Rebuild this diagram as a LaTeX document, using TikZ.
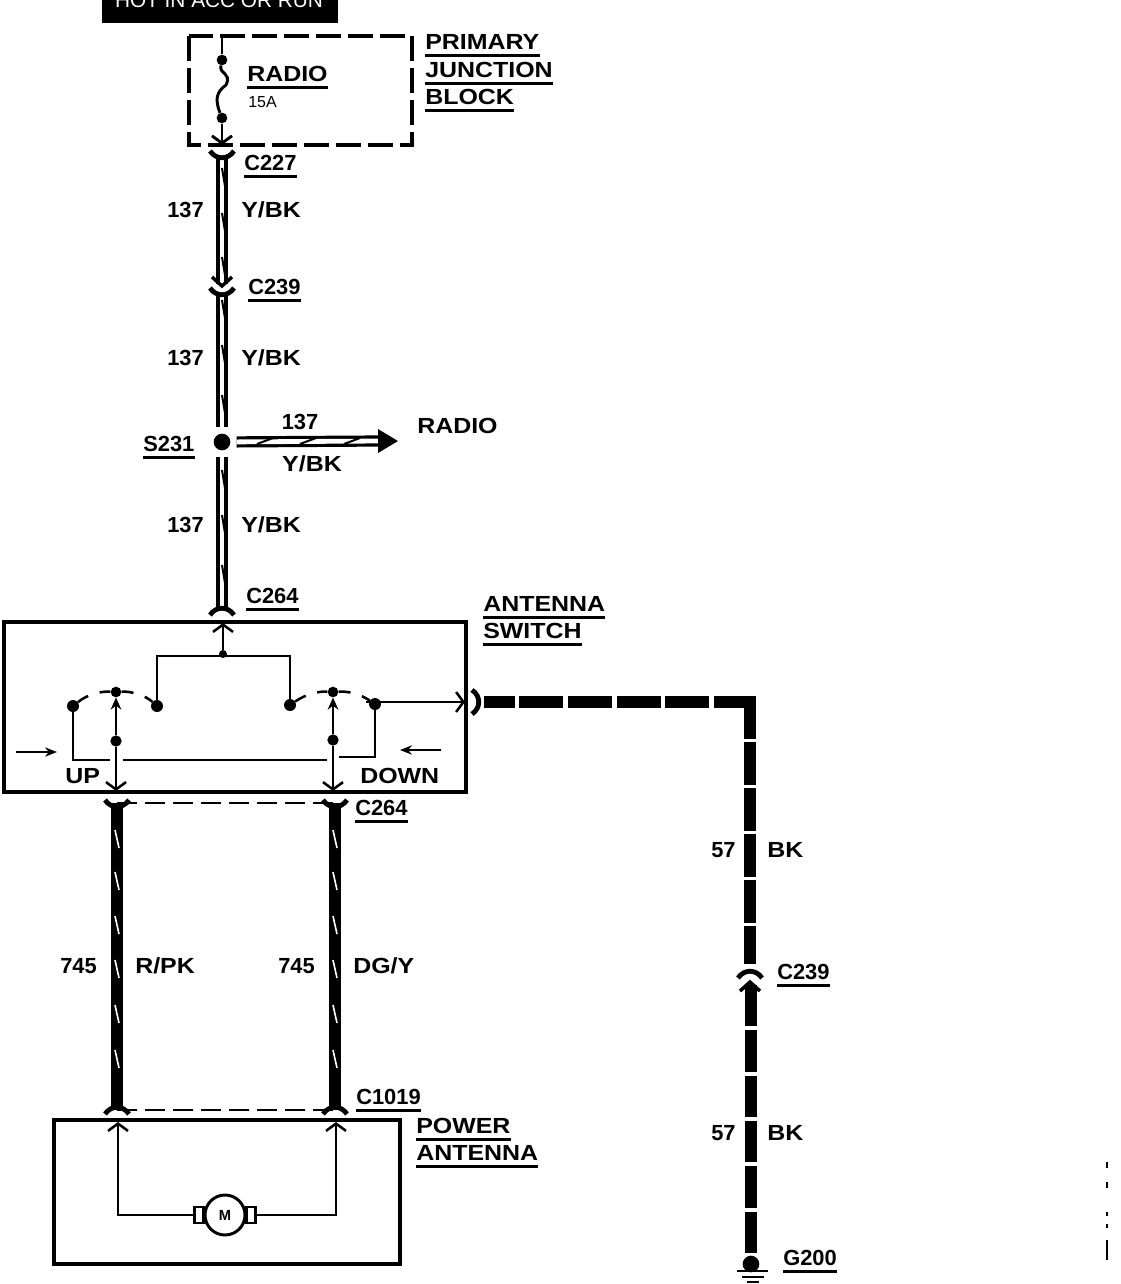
\documentclass[tikz,border=0pt]{standalone}
\usepackage{fontspec}
\setmainfont{Liberation Sans}
\newfontfamily\widefont[FakeStretch=1.14]{Liberation Sans}
\usetikzlibrary{arrows.meta}
\tikzset{
	wirelbl/.style={inner xsep=0pt, inner ysep=3.75pt, anchor=west, text height=11.7pt, text depth=0pt, font=\fontsize{16.4}{18}\selectfont\bfseries},
	namelbl/.style={wirelbl, font=\widefont\fontsize{16.4}{18}\selectfont\bfseries},
	rule/.style={line width=2.2pt},
	thin wire/.style={line width=1.9pt},
	box line/.style={line width=3.6pt},
	link/.style={line width=1.6pt, dash pattern=on 15pt off 6pt},
	color wire/.style={line width=2.4pt, double, double distance=3.6pt},
	black wire/.style={line width=9.4pt},
	block line/.style={line width=3.2pt, dash pattern=on 18.5pt off 5.5pt},
	dotnode/.style={circle, fill=black, inner sep=0pt, minimum size=#1},
	dotnode/.default=8pt,
	tick/.style={line width=1.5pt},
	white tick/.style={line width=1.2pt, white},
	jack/.pic={\draw[line width=3.6pt] (-12,-5) .. controls (-6,4) and (6,4) .. (12,-5);},
	plug/.pic={\draw[line width=2.6pt] (-10,-9) -- (0,0) -- (10,-9);},
	>={Straight Barb[length=5.5pt,width=15pt]}
}

\begin{document}
\begin{tikzpicture}[x=0.75pt, y=-0.75pt]
	\useasboundingbox (0,0) rectangle (1120,1284);

	% ignition feed and fuse block
	\fill (102,-2) rectangle (338,23);
	\node[inner sep=0pt, anchor=base, text=white, font=\fontsize{15.6}{18}\selectfont] (feed) at (219,8) {HOT IN ACC OR RUN};
	\draw[block line] (189,36) rectangle (412,145);
	\coordinate (fusetop) at (222,37);
	\coordinate (fusebot) at (222,145);
	\node[dotnode=8pt] (fusea) at (222,60) {};
	\node[dotnode=8pt] (fuseb) at (222,118) {};
	\draw[line width=2.2pt] (fusetop) -- (fusea);
	\draw[line width=2.2pt] (fusea) .. controls (219,75) and (232,72) .. (226,85) .. controls (216,92) and (215,100) .. (fuseb);
	\draw[line width=2.2pt, ->] (fuseb) -- (fusebot);
	\node[namelbl] (primary) at (425,42) {PRIMARY};
	\node[namelbl] (junction) at (425,70) {JUNCTION};
	\node[namelbl] (blockname) at (425,97) {BLOCK};
	\node[namelbl] (fusename) at (247,74) {RADIO};
	\node[inner sep=0pt, anchor=west, font=\fontsize{12}{14}\selectfont] (fuseamp) at (248,102) {15A};

	% feed wire 137
	\coordinate (a1) at (222,158);
	\coordinate (a2) at (222,284);
	\coordinate (b1) at (222,294);
	\node[dotnode=12.5pt] (splice) at (222,442) {};
	\coordinate (c1) at (222,610);
	\draw[color wire] (a1) -- (a2);
	\draw[color wire, shorten >=4.5pt] (b1) -- (splice);
	\draw[color wire, shorten <=4.5pt] (splice) -- (c1);
	\pic at (222,156) {jack};
	\pic at (222,286) {plug};
	\pic at (222,293) {jack};
	\pic[rotate=180] at (222,610) {jack};
	\foreach \ya in {168,213,257,300,345,395,470,515,565}
		\draw[tick] (222,\ya) -- (225,\ya+18);
	\node[wirelbl] (c227) at (244,163) {C227};
	\node[wirelbl] (c239a) at (248,287) {C239};
	\node[wirelbl] (s231) at (143,444) {S231};
	\node[wirelbl] (c264a) at (246,596) {C264};
	\foreach \ya in {210,358,525}{
		\node[wirelbl] at (167,\ya) {137};
		\node[namelbl] at (241,\ya) {Y/BK};
	}

	% branch to the radio
	\coordinate (radioend) at (380,441);
	\draw[color wire, shorten <=4.5pt] (splice) -- (radioend);
	\fill (378,429) -- (398,441) -- (378,453) -- cycle;
	\foreach \xa in {257,300,344}
		\draw[tick] (\xa,444) -- (\xa+16,438);
	\node[wirelbl, anchor=center] (branchno) at (300,422) {137};
	\node[namelbl, anchor=center] (branchcol) at (312,464) {Y/BK};
	\node[namelbl] (radioname) at (417,426) {RADIO};

	% antenna switch
	\draw[box line] (4,622) rectangle (466,792);
	\coordinate (swtop) at (223,623);
	\node[dotnode=6pt] (swjoin) at (223,654) {};
	\coordinate (swl) at (157,656);
	\coordinate (swr) at (290,656);
	\node[dotnode=9pt] (contl) at (157,706) {};
	\node[dotnode=9pt] (contr) at (290,705) {};
	\node[dotnode=9pt] (pivl) at (73,706) {};
	\node[dotnode=9pt] (pivr) at (375,704) {};
	\node[dotnode=8pt] (armtopl) at (116,692) {};
	\node[dotnode=8pt] (armtopr) at (333,692) {};
	\node[dotnode=8.5pt] (midl) at (116,741) {};
	\node[dotnode=8.5pt] (midr) at (333,740) {};
	\coordinate (swbotl) at (116,791);
	\coordinate (swbotr) at (333,791);
	\coordinate (swout) at (465,702);
	\draw[thin wire, ->] (swjoin) -- (swtop);
	\draw[thin wire] (contl) -- (swl) -- (swr) -- (contr);
	\draw[thin wire, -{Stealth[length=9pt,width=8pt]}] (midl) -- (armtopl);
	\draw[thin wire, -{Stealth[length=9pt,width=8pt]}] (midr) -- (armtopr);
	\draw[thin wire, ->] (midl) -- (swbotl);
	\draw[thin wire, ->] (midr) -- (swbotr);
	\draw[thin wire, dash pattern=on 9pt off 9pt] (pivl) .. controls (88,694) and (102,691) .. (armtopl) .. controls (132,691) and (146,696) .. (contl);
	\draw[thin wire, dash pattern=on 9pt off 9pt] (contr) .. controls (306,694) and (320,691) .. (armtopr) .. controls (348,691) and (360,694) .. (pivr);
	\draw[thin wire] (pivl) |- (110,760);
	\draw[thin wire] (123,760) -- (327,760);
	\draw[thin wire] (339,757) -| (pivr);
	\draw[thin wire, ->] (366,702) -- (swout);
	\coordinate (pusha) at (16,752);
	\coordinate (pushb) at (57,752);
	\coordinate (pushc) at (441,750);
	\coordinate (pushd) at (400,750);
	\draw[thin wire, -{Stealth[length=9pt,width=7pt]}] (pusha) -- (pushb);
	\draw[thin wire, -{Stealth[length=9pt,width=7pt]}] (pushc) -- (pushd);
	\node[namelbl] (upname) at (65,776) {UP};
	\node[namelbl] (downname) at (360,776) {DOWN};
	\node[namelbl] (switchtop) at (483,604) {ANTENNA};
	\node[namelbl] (switchbot) at (483,631) {SWITCH};

	% motor feed wires 745
	\coordinate (dl1) at (117,803);
	\coordinate (dl2) at (117,1110);
	\coordinate (dr1) at (335,803);
	\coordinate (dr2) at (335,1110);
	\draw[black wire] (dl1) -- (dl2);
	\draw[black wire] (dr1) -- (dr2);
	\foreach \xa in {117,335}{
		\pic at (\xa,805) {jack};
		\pic[rotate=180] at (\xa,1109) {jack};
		\foreach \ya in {830,872,916,960,1005,1050}
			\draw[white tick] (\xa-2,\ya) -- (\xa+2,\ya+18);
	}
	\draw[link] (dl1) -- (dr1);
	\draw[link] (dl2) -- (dr2);
	\node[wirelbl] (numl) at (60,966) {745};
	\node[namelbl] (coll) at (135,966) {R/PK};
	\node[wirelbl] (numr) at (278,966) {745};
	\node[namelbl] (colr) at (353,966) {DG/Y};
	\node[wirelbl] (c264b) at (355,808) {C264};
	\node[wirelbl] (c1019) at (356,1097) {C1019};

	% power antenna
	\draw[box line] (54,1120) rectangle (400,1264);
	\node[circle, draw, line width=2.2pt, inner sep=0pt, minimum size=30pt, font=\fontsize{11}{12}\selectfont\bfseries] (motor) at (225,1215) {M};
	\coordinate (motl) at (118,1122);
	\coordinate (motr) at (336,1122);
	\coordinate (motw) at ([xshift=-6.5pt]motor.west);
	\coordinate (mote) at ([xshift=6.5pt]motor.east);
	\draw[line width=2.2pt] ([yshift=-6pt]motw) rectangle ([yshift=6pt]motor.west);
	\draw[line width=2.2pt] ([yshift=-6pt]mote) rectangle ([yshift=6pt]motor.east);
	\draw[thin wire, ->] (motw) -| (motl);
	\draw[thin wire, ->] (mote) -| (motr);
	\node[namelbl] (powertop) at (416,1126) {POWER};
	\node[namelbl] (powerbot) at (416,1153) {ANTENNA};

	% ground wire 57
	\coordinate (e1) at (484,702);
	\coordinate (e2) at (755,702);
	\coordinate (e4) at (750,696);
	\coordinate (e3) at (750,964);
	\coordinate (f1) at (751,985);
	\node[dotnode=12.5pt] (gnd) at (751,1264) {};
	\draw[black wire, dash phase=10pt, dash pattern=on 33pt off 3.5pt] (e1) -- (e2);
	\draw[black wire, dash pattern=on 32pt off 2.5pt] (e4) -- (e3);
	\draw[black wire, dash pattern=on 31pt off 3pt] (f1) -- (gnd);
	\pic[rotate=90] at (477,702) {jack};
	\pic[rotate=180] at (750,973) {jack};
	\pic[rotate=180] at (750,982) {plug};
	\coordinate (g1) at (737,1271);
	\coordinate (g2) at (768,1271);
	\coordinate (g3) at (742,1277);
	\coordinate (g4) at (764,1277);
	\coordinate (g5) at (747,1282);
	\coordinate (g6) at (759,1282);
	\draw[line width=2pt] (g1) -- (g2) (g3) -- (g4) (g5) -- (g6);
	\node[wirelbl] (numg) at (711,850) {57};
	\node[namelbl] (colg) at (767,850) {BK};
	\node[wirelbl] (numh) at (711,1133) {57};
	\node[namelbl] (colh) at (767,1133) {BK};
	\node[wirelbl] (c239b) at (777,972) {C239};
	\node[wirelbl] (g200) at (783,1258) {G200};

	% name rules
	\foreach \lbl in {primary,junction,blockname,fusename,c227,c239a,s231,c264a,switchtop,switchbot,c264b,c1019,powertop,powerbot,c239b,g200}
		\draw[rule] (\lbl.south west) -- (\lbl.south east);

	% marks on the right edge
	\draw[line width=.8pt] (1107,1162) -- (1107,1168) (1107,1182) -- (1107,1188) (1107,1212) -- (1107,1216) (1107,1224) -- (1107,1228) (1107,1240) -- (1107,1260);
\end{tikzpicture}
\end{document}
